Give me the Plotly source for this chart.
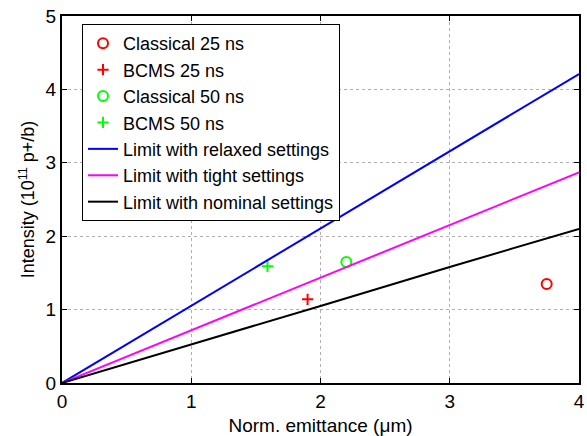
import plotly.graph_objects as go

# Data
classical25_x = [3.75]
classical25_y = [1.35]
bcms25_x = [1.90]
bcms25_y = [1.14]
classical50_x = [2.20]
classical50_y = [1.65]
bcms50_x = [1.59]
bcms50_y = [1.59]

limit_x = [0, 1, 2, 3, 4]
relaxed_y = [0, 1.055, 2.11, 3.16, 4.21]
tight_y = [0, 0.72, 1.43, 2.15, 2.87]
nominal_y = [0, 0.52, 1.05, 1.58, 2.10]

x_ticks = [0, 1, 2, 3, 4]
y_ticks = [0, 1, 2, 3, 4, 5]

FONT = "Liberation Sans, Arial, Helvetica, sans-serif"

fig = go.Figure()
fig.add_trace(go.Scatter(x=classical25_x, y=classical25_y, mode="markers", name="Classical 25 ns",
                         marker=dict(symbol="circle-open", size=10, color="#ff0000", line=dict(width=2))))
fig.add_trace(go.Scatter(x=bcms25_x, y=bcms25_y, mode="markers", name="BCMS 25 ns",
                         marker=dict(symbol="cross-thin-open", size=8, color="#ff0000", line=dict(width=2, color="#ff0000"))))
fig.add_trace(go.Scatter(x=classical50_x, y=classical50_y, mode="markers", name="Classical 50 ns",
                         marker=dict(symbol="circle-open", size=10, color="#00ff00", line=dict(width=2))))
fig.add_trace(go.Scatter(x=bcms50_x, y=bcms50_y, mode="markers", name="BCMS 50 ns",
                         marker=dict(symbol="cross-thin-open", size=8, color="#00ff00", line=dict(width=2, color="#00ff00"))))
fig.add_trace(go.Scatter(x=limit_x, y=relaxed_y, mode="lines", name="Limit with relaxed settings",
                         line=dict(color="#0000ff", width=2)))
fig.add_trace(go.Scatter(x=limit_x, y=tight_y, mode="lines", name="Limit with tight settings",
                         line=dict(color="#ff00ff", width=2)))
fig.add_trace(go.Scatter(x=limit_x, y=nominal_y, mode="lines", name="Limit with nominal settings",
                         line=dict(color="#000000", width=2)))

axis_common = dict(
    showline=True, linecolor="black", linewidth=2, mirror="ticks",
    ticks="inside", ticklen=5, tickcolor="black", tickwidth=1,
    showgrid=True, gridcolor="#b0b0b0", griddash="dot", gridwidth=1,
    zeroline=False, tickfont=dict(size=19, color="black", family=FONT),
    automargin=False,
)

fig.update_layout(
    width=587, height=436,
    margin=dict(l=62, r=8, t=16, b=53),
    paper_bgcolor="white", plot_bgcolor="white",
    font=dict(family=FONT, color="black"),
    showlegend=True,
    legend=dict(x=0.0387, y=0.978, xanchor="left", yanchor="top",
                bordercolor="black", borderwidth=1, bgcolor="white",
                font=dict(size=18, family=FONT, color="black"),
                tracegroupgap=0, itemwidth=30),
    xaxis=dict(range=[0, 4], tickvals=x_ticks,
               title=dict(text="Norm. emittance (μm)", font=dict(size=19), standoff=10),
               **axis_common),
    yaxis=dict(range=[0, 5], tickvals=y_ticks,
               title=dict(text="Intensity (10<sup>11</sup> p+/b)", font=dict(size=18), standoff=6),
               **axis_common),
)

fig.write_html("out.html")
